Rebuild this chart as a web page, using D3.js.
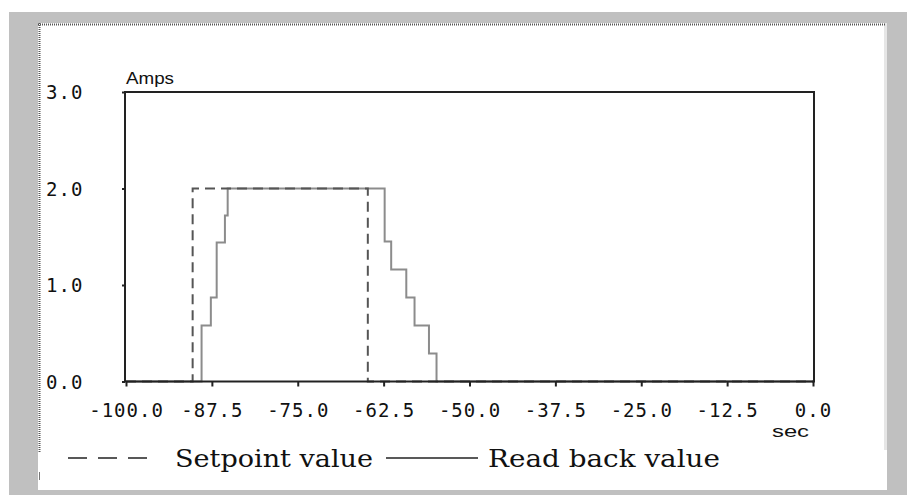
<!DOCTYPE html>
<html>
<head>
<meta charset="utf-8">
<script src="https://cdn.jsdelivr.net/npm/d3@7"></script>
<style>
  html, body { margin: 0; padding: 0; background: #fff; }
  svg { display: block; }
</style>
</head>
<body>
<svg id="chart" width="907" height="495"></svg>
<script>
// ---- data ----
const xTickValues = [-100, -87.5, -75, -62.5, -50, -37.5, -25, -12.5, 0];
const yTickValues = [0, 1, 2, 3];
const setpointTimes = [-100, -90.3, -64.8, 0];
const setpointValues = [0, 2, 0, 0];
const readbackTimes = [-100, -89.0, -87.65, -86.8, -85.6, -85.2, -62.35, -61.4, -59.2, -58.0, -55.9, -54.8, 0];
const readbackValues = [0, 0.58, 0.87, 1.44, 1.72, 2.0, 1.45, 1.16, 0.87, 0.58, 0.29, 0, 0];
const legendLabels = ["Setpoint value", "Read back value"];
const yUnit = "Amps";
const xUnit = "sec";

const svg = d3.select("#chart");

// ---- window frame ----
svg.append("rect").attr("x", 0).attr("y", 0).attr("width", 907).attr("height", 495).attr("fill", "#fff");
svg.append("rect").attr("x", 9).attr("y", 12).attr("width", 898).attr("height", 483).attr("fill", "#c0c0c0");
svg.append("rect").attr("x", 38).attr("y", 23).attr("width", 849).attr("height", 467).attr("fill", "#fff");
svg.append("rect").attr("x", 884).attr("y", 23).attr("width", 3).attr("height", 427).attr("fill", "#e6e6e6");
svg.append("line").attr("x1", 38).attr("x2", 886).attr("y1", 24.5).attr("y2", 24.5)
  .attr("stroke", "#555").attr("stroke-width", 2).attr("stroke-dasharray", "1,1");
svg.append("line").attr("x1", 39.5).attr("x2", 39.5).attr("y1", 23).attr("y2", 452)
  .attr("stroke", "#555").attr("stroke-width", 2).attr("stroke-dasharray", "1,1");
svg.append("line").attr("x1", 39.5).attr("x2", 39.5).attr("y1", 472).attr("y2", 480)
  .attr("stroke", "#777").attr("stroke-width", 1);

// ---- scales ----
const x = d3.scaleLinear().domain([-100, 0]).range([126, 813]);
const y = d3.scaleLinear().domain([0, 3]).range([381.5, 92]);

const monoFont = "'DejaVu Sans Mono', 'Liberation Mono', monospace";

// ---- data lines ----
const line = d3.line().x(d => x(d[0])).y(d => y(d[1])).curve(d3.curveStepAfter);
const readback = readbackTimes.map((t, i) => [t, readbackValues[i]]);
const setpoint = setpointTimes.map((t, i) => [t, setpointValues[i]]);

svg.append("path").datum(readback).attr("d", line)
  .attr("fill", "none").attr("stroke", "#8c8c8c").attr("stroke-width", 2);
svg.append("path").datum(setpoint).attr("d", line)
  .attr("fill", "none").attr("stroke", "#555").attr("stroke-width", 2)
  .attr("stroke-dasharray", "10,6");

// ---- plot box ----
svg.append("rect").attr("x", x(-100) - 1).attr("y", y(3)).attr("width", x(0) - x(-100) + 2).attr("height", y(0) - y(3))
  .attr("fill", "none").attr("stroke", "#222").attr("stroke-width", 2);

// ---- axes ----
const xAxis = svg.append("g").attr("transform", `translate(0,${y(0)})`)
  .call(d3.axisBottom(x).tickValues(xTickValues).tickFormat(d => d.toFixed(1)).tickSize(5).tickSizeOuter(0));
xAxis.select(".domain").remove();
xAxis.selectAll(".tick line").attr("stroke", "#222").attr("stroke-width", 2);
xAxis.selectAll(".tick text").attr("y", 35).attr("dy", 0)
  .attr("font-family", monoFont).attr("font-size", 19).attr("letter-spacing", 1).attr("fill", "#111");

const yAxis = svg.append("g").attr("transform", `translate(${x(-100) - 1},0)`)
  .call(d3.axisLeft(y).tickValues(yTickValues).tickFormat(d => d.toFixed(1)).tickSize(3).tickSizeOuter(0));
yAxis.select(".domain").remove();
yAxis.selectAll(".tick line").attr("stroke", "#222").attr("stroke-width", 2);
yAxis.selectAll(".tick text").attr("x", 46 - (x(-100) - 1)).attr("dy", "0.35em")
  .attr("text-anchor", "start")
  .attr("font-family", monoFont).attr("font-size", 19).attr("letter-spacing", 1).attr("fill", "#111");

// ---- unit labels ----
svg.append("text").attr("x", 126).attr("y", 84).text(yUnit)
  .attr("font-family", "'Liberation Sans', Arial, sans-serif").attr("font-size", 17)
  .attr("textLength", 48).attr("lengthAdjust", "spacingAndGlyphs").attr("fill", "#111");
svg.append("text").attr("x", 772).attr("y", 437).text(xUnit)
  .attr("font-family", "'Liberation Sans', Arial, sans-serif").attr("font-size", 17)
  .attr("textLength", 37).attr("lengthAdjust", "spacingAndGlyphs").attr("fill", "#111");

// ---- legend ----
const serif = "'DejaVu Serif', 'Liberation Serif', serif";
svg.append("line").attr("x1", 68).attr("x2", 153).attr("y1", 458).attr("y2", 458)
  .attr("stroke", "#222").attr("stroke-width", 1.5).attr("stroke-dasharray", "19,11");
svg.append("text").attr("x", 175).attr("y", 467).text(legendLabels[0])
  .attr("font-family", serif).attr("font-size", 24)
  .attr("textLength", 198).attr("lengthAdjust", "spacingAndGlyphs").attr("fill", "#111");
svg.append("line").attr("x1", 386).attr("x2", 478).attr("y1", 458).attr("y2", 458)
  .attr("stroke", "#222").attr("stroke-width", 1.5);
svg.append("text").attr("x", 488).attr("y", 467).text(legendLabels[1])
  .attr("font-family", serif).attr("font-size", 24)
  .attr("textLength", 232).attr("lengthAdjust", "spacingAndGlyphs").attr("fill", "#111");
</script>
</body>
</html>
